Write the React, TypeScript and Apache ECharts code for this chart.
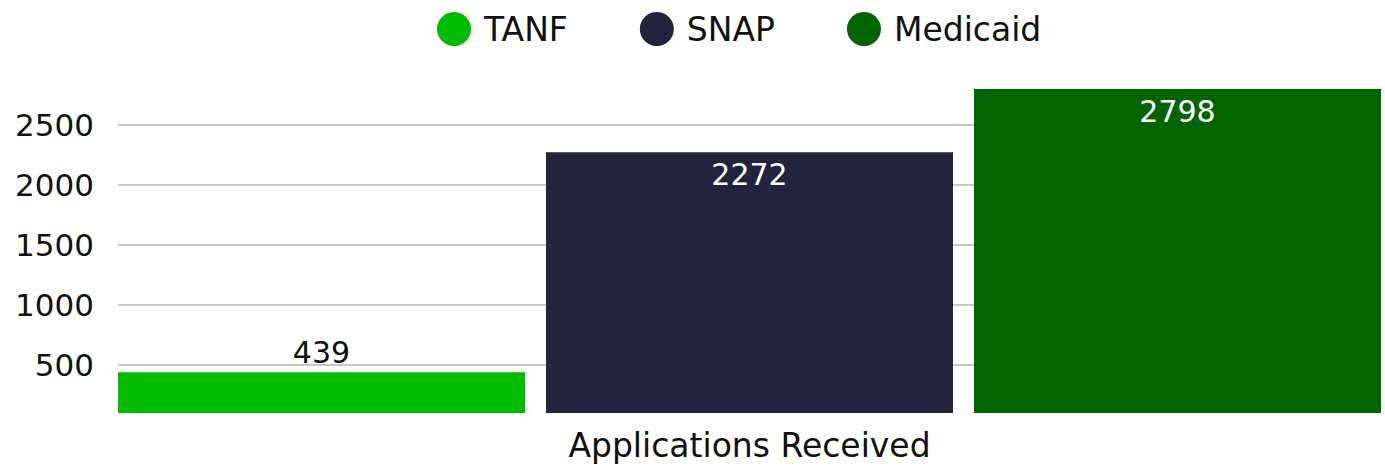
import React, { useEffect, useRef } from "react";
import * as echarts from "echarts";

const categories = ["Applications Received"];
const seriesNames = ["TANF", "SNAP", "Medicaid"];
const tanfValues = [439];
const snapValues = [2272];
const medicaidValues = [2798];
const yTickValues = [500, 1000, 1500, 2000, 2500];

const FONT = "'DejaVu Sans', sans-serif";

export default function App() {
  const ref = useRef<HTMLDivElement>(null);
  useEffect(() => {
    if (!ref.current) return;
    const chart = echarts.init(ref.current, undefined, { renderer: "svg" });
    const labelInside = {
      show: true,
      position: "insideTop",
      distance: 7,
      color: "#ffffff",
      fontSize: 30,
      fontFamily: FONT,
    };
    chart.setOption({
      animation: false,
      textStyle: { fontFamily: FONT },
      legend: {
        top: 7,
        left: 432,
        icon: "circle",
        itemWidth: 34,
        itemHeight: 34,
        itemGap: 72,
        textStyle: { fontSize: 33, color: "#111", fontFamily: FONT, padding: [0, 0, 0, 8] },
        data: seriesNames,
      },
      grid: { left: 118, right: 4, top: 89, bottom: 53, containLabel: false },
      xAxis: {
        type: "category",
        data: categories,
        axisLine: { show: false },
        axisTick: { show: false },
        axisLabel: { fontSize: 33, color: "#111", margin: 16, fontFamily: FONT },
      },
      yAxis: {
        type: "value",
        min: 100,
        max: 2798,
        axisLine: { show: false },
        axisTick: { show: false, customValues: yTickValues },
        axisLabel: {
          customValues: yTickValues,
          formatter: (v: number) => String(v),
          fontSize: 31,
          color: "#111",
          margin: 24,
          fontFamily: FONT,
        },
        splitLine: { show: true, lineStyle: { color: "#c6c6c6", width: 2 } },
      },
      series: [
        {
          name: "TANF",
          type: "bar",
          data: tanfValues,
          itemStyle: { color: "#00bb00" },
          barGap: "5.16%",
          barCategoryGap: 0,
          label: {
            show: true,
            position: "top",
            distance: 5,
            color: "#111",
            fontSize: 30,
            fontFamily: FONT,
          },
        },
        {
          name: "SNAP",
          type: "bar",
          data: snapValues,
          itemStyle: { color: "#23233d" },
          barGap: "5.16%",
          barCategoryGap: 0,
          label: labelInside,
        },
        {
          name: "Medicaid",
          type: "bar",
          data: medicaidValues,
          itemStyle: { color: "#006400" },
          barGap: "5.16%",
          barCategoryGap: 0,
          label: labelInside,
        },
      ],
    });
    return () => chart.dispose();
  }, []);
  return (
    <div
      ref={ref}
      style={{ position: "absolute", left: 0, top: 0, width: 1385, height: 466 }}
    />
  );
}
